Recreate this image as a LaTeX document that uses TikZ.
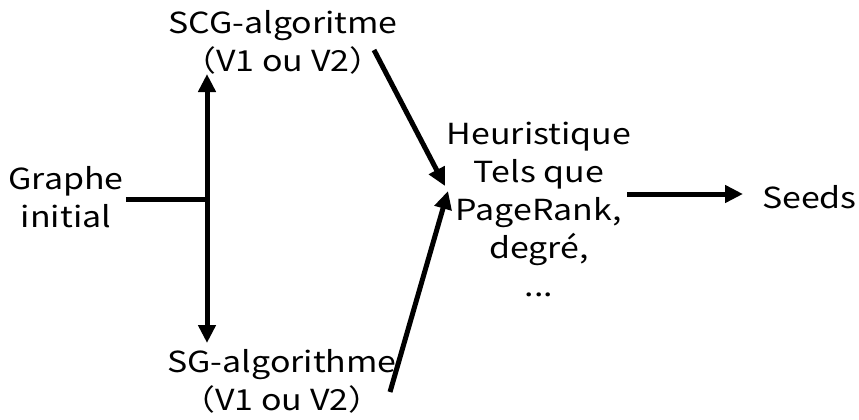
\documentclass[tikz,border=0pt]{standalone}
\usepackage{fontspec}
\setmainfont[FakeStretch=1.17]{Noto Sans CJK JP}
\usetikzlibrary{arrows.meta}
\begin{document}
\begin{tikzpicture}[x=1pt,y=-1pt,
  lbl/.style={inner sep=0pt,align=center,font=\fontsize{29}{38}\selectfont},
  wire/.style={line width=5pt,line cap=butt},
  arr/.style={wire,-{Triangle[length=18pt,width=17pt]}}]
\useasboundingbox (0,0) rectangle (859,420);
% labels
\node[lbl] (graphe) at (66,197) {Graphe\\initial};
\node[lbl] (scg) at (283,42) {SCG-algoritme\\（V1 ou V2）};
\node[lbl] (sg) at (282,381) {SG-algorithme\\（V1 ou V2）};
\node[lbl] (heur) at (539,209) {Heuristique\\Tels que\\PageRank,\\degré,\\...};
\node[lbl,anchor=east] (seeds) at (857,197) {Seeds};
% branching point and arrow ends
\coordinate (j) at (207,199);
\coordinate (up) at (207,74);
\coordinate (down) at (207,343);
\coordinate (a1) at (374,50);
\coordinate (a2) at (390,392);
\coordinate (in1) at (445,186);
\coordinate (in2) at (448,191);
\coordinate (o1) at (627,194);
\coordinate (o2) at (743,194);
% connectors
\draw[wire] (j -| graphe.east) ++(2,0) -- (j);
\draw[arr] (j) -- (up);
\draw[arr] (j) -- (down);
\draw[arr] (a1) -- (in1);
\draw[arr] (a2) -- (in2);
\draw[arr] (o1) -- (o2);
\end{tikzpicture}
\end{document}
